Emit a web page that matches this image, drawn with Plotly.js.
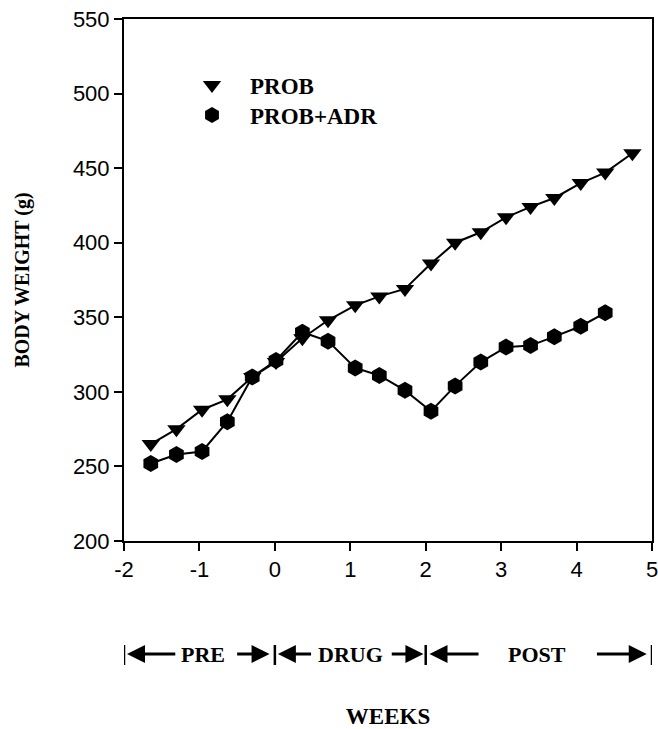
<!DOCTYPE html>
<html>
<head>
<meta charset="utf-8">
<script src="https://cdn.plot.ly/plotly-3.0.1.min.js"></script>
<style>
  html, body { margin: 0; padding: 0; background: #fff; }
  #chart { width: 658px; height: 729px; }
</style>
</head>
<body>
<div id="chart"></div>
<script>
// ---- Data ----
const weeks = [-1.645, -1.305, -0.965, -0.63, -0.30, 0.015, 0.365, 0.705, 1.065, 1.385,
               1.725, 2.07, 2.39, 2.73, 3.065, 3.39, 3.705, 4.055, 4.38, 4.74];
const probWeight = [265, 275, 288, 295, 310, 320, 336, 348, 358, 364,
                    369, 386, 400, 407, 417, 424, 430, 440, 447, 460];
const adrWeeks = weeks.slice(0, 19);
const adrWeight = [252, 258, 260, 280, 310, 321, 340, 334, 316, 311,
                   301, 287, 304, 320, 330, 331, 337, 344, 353];
const seriesNames = ['PROB', 'PROB+ADR'];
const xTicks = [-2, -1, 0, 1, 2, 3, 4, 5];
const yTicks = [200, 250, 300, 350, 400, 450, 500, 550];
const phaseLabels = ['PRE', 'DRUG', 'POST'];
const phaseBounds = [-2, 0, 2, 5];

const serif = 'Liberation Serif, Times New Roman, serif';
const sans = 'Liberation Sans, Arial, sans-serif';

const traces = [
  { x: weeks, y: probWeight, mode: 'lines', line: {color: '#000', width: 2},
    showlegend: false, hoverinfo: 'skip' },
  { x: adrWeeks, y: adrWeight, mode: 'lines', line: {color: '#000', width: 2},
    showlegend: false, hoverinfo: 'skip' },
  { x: weeks, y: probWeight, mode: 'markers', name: seriesNames[0],
    marker: {symbol: 'triangle-down', size: 16, color: '#000'}, legend: 'legend' },
  { x: adrWeeks, y: adrWeight, mode: 'markers', name: seriesNames[1],
    marker: {symbol: 'hexagon', size: 17, color: '#000'}, legend: 'legend2' }
];

// plot area in px: left 124, right 652, top 19, bottom 541
const L = 124, R = 652, T = 19, B = 541;
const py = p => (B - p) / (B - T);   // pixel y -> paper y
const px = p => (p - L) / (R - L);   // pixel x -> paper x

const legendCommon = {
  xref: 'paper', yref: 'paper', xanchor: 'left', yanchor: 'middle',
  bgcolor: 'rgba(0,0,0,0)', borderwidth: 0, itemwidth: 66,
  font: {family: serif, size: 23, color: '#000', weight: 'bold'}
};

const yArrow = py(654);
const annotations = [];
const shapes = [];
// phase boundary bars
phaseBounds.forEach(b => {
  shapes.push({type: 'line', xref: 'x', yref: 'paper', x0: b, x1: b,
               y0: py(645), y1: py(665), line: {color: '#000', width: 2.5}});
});
// arrows: [head, tail] in week units
const arrows = [
  [-1.96, -1.30], [-0.07, -0.52],
  [0.04, 0.50], [1.97, 1.53],
  [2.05, 2.72], [4.93, 4.25]
];
arrows.forEach(a => {
  annotations.push({x: a[0], y: yArrow, xref: 'x', yref: 'paper',
    ax: a[1], ay: 0, axref: 'x', ayref: 'pixel', text: '', showarrow: true,
    arrowhead: 2, arrowsize: 1.2, arrowwidth: 3, arrowcolor: '#000', standoff: 0, startstandoff: 0});
});
const labelPos = [-0.95, 1.0, 3.47];
phaseLabels.forEach((t, i) => {
  annotations.push({x: labelPos[i], y: yArrow, xref: 'x', yref: 'paper', text: t,
    showarrow: false, xanchor: 'center', yanchor: 'middle',
    font: {family: serif, size: 22, color: '#000', weight: 'bold'}});
});

const layout = {
  width: 658, height: 729,
  margin: {l: L, r: 658 - R, t: T, b: 729 - B},
  paper_bgcolor: '#fff', plot_bgcolor: '#fff',
  font: {family: sans, color: '#000'},
  xaxis: {
    range: [-2, 5], tickvals: xTicks, ticktext: xTicks.map(String),
    ticks: 'outside', ticklen: 8, tickwidth: 2, tickcolor: '#000',
    showline: true, linewidth: 2, linecolor: '#000', mirror: true,
    showgrid: false, zeroline: false, automargin: false,
    ticklabeloverflow: 'allow',
    tickfont: {family: sans, size: 22, color: '#000'},
    title: {text: 'WEEKS', standoff: 138,
            font: {family: serif, size: 23, color: '#000', weight: 'bold'}}
  },
  yaxis: {
    range: [200, 550], tickvals: yTicks, ticktext: yTicks.map(String),
    ticks: 'outside', ticklen: 8, tickwidth: 2, tickcolor: '#000',
    showline: true, linewidth: 2, linecolor: '#000', mirror: true,
    showgrid: false, zeroline: false, automargin: false,
    ticklabeloverflow: 'allow',
    tickfont: {family: sans, size: 22, color: '#000'},
    title: {text: 'BODY WEIGHT (g)', standoff: 38,
            font: {family: serif, size: 20, color: '#000', weight: 'bold'}}
  },
  legend: Object.assign({}, legendCommon, {x: px(174), y: py(85)}),
  legend2: Object.assign({}, legendCommon, {x: px(174), y: py(115)}),
  annotations: annotations,
  shapes: shapes
};

Plotly.newPlot('chart', traces, layout, {displayModeBar: false, staticPlot: true});
</script>
</body>
</html>
